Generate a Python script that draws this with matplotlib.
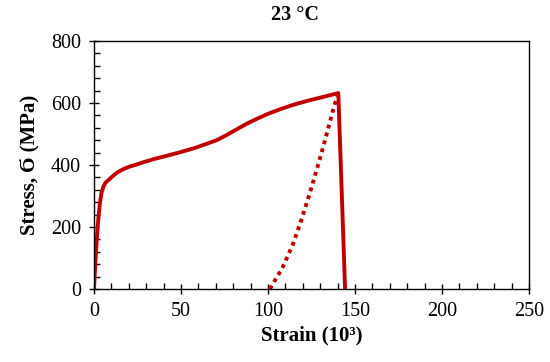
import matplotlib
matplotlib.use("Agg")
import matplotlib.pyplot as plt
from matplotlib.ticker import MultipleLocator

plt.rcParams['font.family'] = ['Liberation Serif', 'DejaVu Serif']

# loading curve (strain x10^3, stress MPa)
strain = [0, 0.8, 1.5, 2.1, 2.8, 3.5, 4.3, 5.4, 6.6, 8.2, 10, 12, 14, 17, 20, 23.6, 29, 35, 42,
          49.4, 58, 64, 70.5, 76, 82, 87.7, 94, 100, 107, 115, 124, 132, 140.4, 144.3]
stress = [0, 90, 150, 200, 245, 281, 310, 330, 343, 351, 360, 370, 378, 387, 394, 400, 410, 420, 430,
          441, 455, 467, 480, 496, 515, 533, 550, 565, 580, 595, 609, 620, 632, 0]

# elastic unloading line (dotted)
unload_strain = [101.1, 104, 108, 111, 114.5, 119, 124, 128, 131.8, 135, 138, 140.4]
unload_stress = [0, 28, 65, 102, 147, 220, 309, 385, 460, 527, 590, 630]

red = '#C00000'

fig = plt.figure(figsize=(5.5, 3.62), dpi=100)
ax = fig.add_axes([94/550, 1-289/362, (529-94)/550, (289-41)/362])

ax.plot(strain, stress, color=red, lw=2.8, solid_joinstyle='round')
ax.plot(unload_strain, unload_stress, color=red, lw=2.8, linestyle=(0, (1, 1.1)))

ax.set_xlim(0, 250)
ax.set_ylim(0, 800)
ax.xaxis.set_major_locator(MultipleLocator(50))
ax.xaxis.set_minor_locator(MultipleLocator(10))
ax.yaxis.set_major_locator(MultipleLocator(200))
ax.yaxis.set_minor_locator(MultipleLocator(40))
ax.tick_params(which='major', direction='inout', length=7, width=1, labelsize=14.5, pad=6)
ax.tick_params(which='minor', direction='in', length=4, width=1)
for s in ax.spines.values():
    s.set_linewidth(1)

ax.set_xlabel('Strain (10³)', fontsize=15, fontweight='bold', labelpad=3)
ax.set_ylabel('Stress, Ϭ (MPa)', fontsize=15, fontweight='bold', labelpad=8)
fig.text(295/550, 1-15/362, '23 °C', ha='center', va='center', fontsize=14.5, fontweight='bold')

fig.savefig('out.png', dpi=100)
